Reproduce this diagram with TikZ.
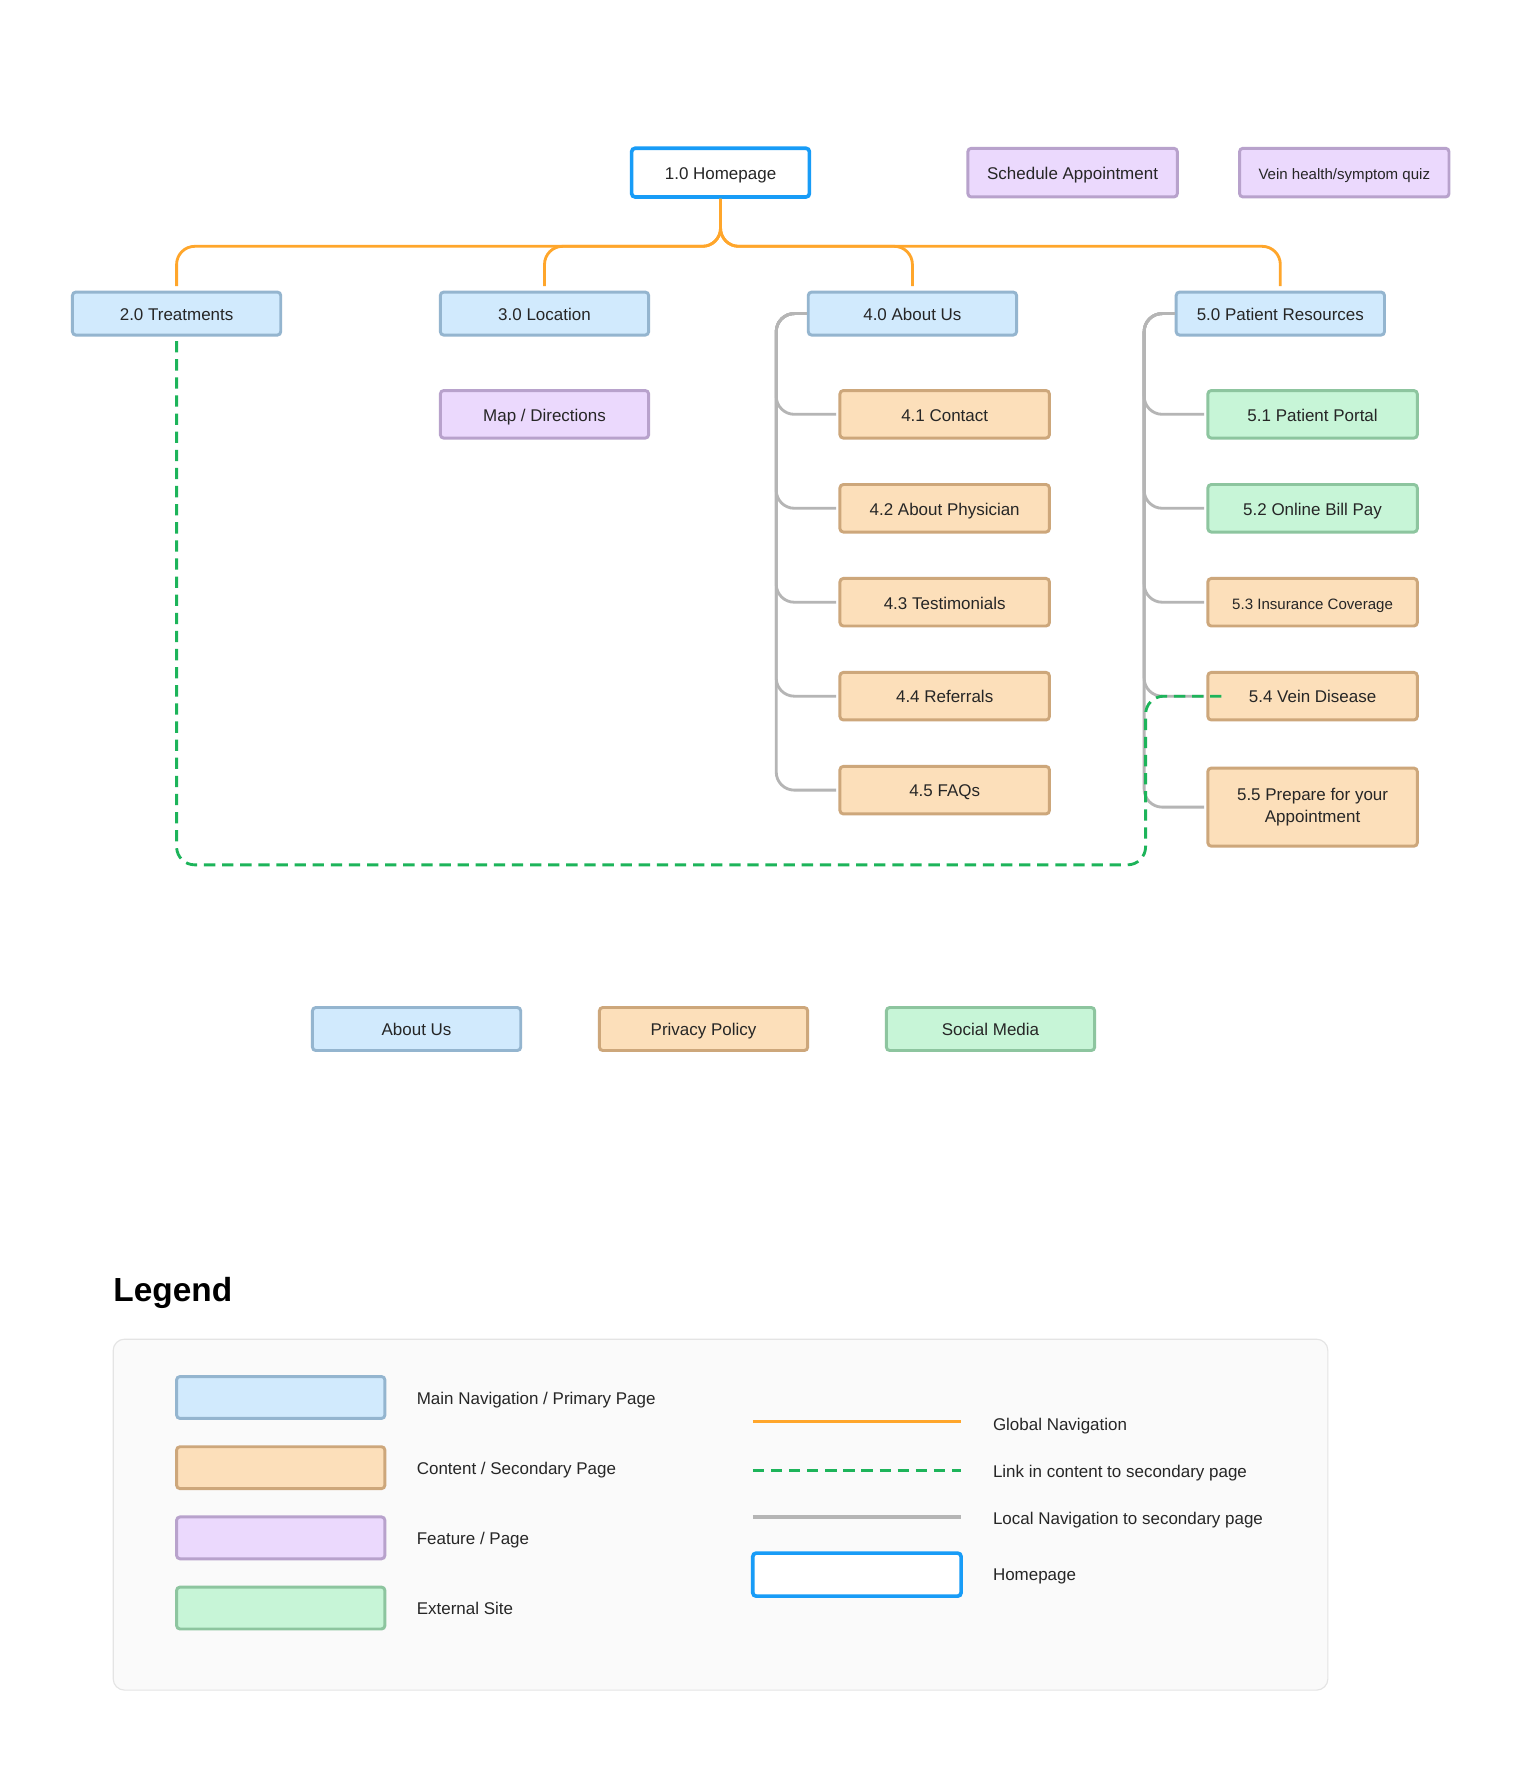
\documentclass[tikz,border=0pt]{standalone}
\usepackage{fontspec}
\setmainfont{Liberation Sans}
\definecolor{txt}{HTML}{262626}
\definecolor{bluefill}{HTML}{D1EAFD}
\definecolor{blueline}{HTML}{94B5CF}
\definecolor{orgfill}{HTML}{FCDFBA}
\definecolor{orgline}{HTML}{CDA77B}
\definecolor{purfill}{HTML}{EBD9FD}
\definecolor{purline}{HTML}{B8A2CC}
\definecolor{grnfill}{HTML}{C7F5D7}
\definecolor{grnline}{HTML}{8DC59F}
\definecolor{homeblue}{HTML}{189CF7}
\definecolor{globalc}{HTML}{FFA62B}
\definecolor{linkc}{HTML}{1DB45A}
\definecolor{localc}{HTML}{B5B5B5}
\definecolor{panelfill}{HTML}{FAFAFA}
\definecolor{panelline}{HTML}{E4E4E4}
\newcommand{\fsz}{\fontsize{15}{20}\selectfont}
\newcommand{\fsm}{\fontsize{13.3}{18}\selectfont}
\tikzset{
  boxbase/.style={draw, rounded corners=3pt, line width=2.6pt, minimum width=184pt,
    minimum height=38pt, inner sep=0pt, font=\fsz, text=txt, align=center},
  box/.style={boxbase, text height=12.5pt, text depth=0.5pt},
  primary/.style={box, fill=bluefill, draw=blueline},
  content/.style={box, fill=orgfill, draw=orgline},
  feature/.style={box, fill=purfill, draw=purline},
  external/.style={box, fill=grnfill, draw=grnline},
  contentmulti/.style={boxbase, fill=orgfill, draw=orgline},
  homebox/.style={box, fill=white, draw=homeblue, line width=3.2pt},
  tall/.style={minimum height=42pt},
  globalnav/.style={draw=globalc, line width=2.5pt, rounded corners=16pt},
  localnav/.style={draw=localc, line width=2.5pt, rounded corners=16pt},
  contentlink/.style={draw=linkc, line width=2.5pt, rounded corners=16pt, dash pattern=on 10pt off 6pt},
  legtext/.style={anchor=west, font=\fsz, text=txt, inner sep=0pt, text height=12pt, text depth=1pt}
}
\begin{document}
\begin{tikzpicture}[x=1pt,y=-1pt]
\useasboundingbox[fill=white] (0,0) rectangle (1355,1568);

% top row
\node[homebox, minimum width=157pt, minimum height=43pt] (home) at (636.5,152.5) {1.0 Homepage};
\node[feature, minimum width=185pt, minimum height=43pt] (sched) at (947.5,152.5) {Schedule Appointment};
\node[feature, minimum width=185pt, minimum height=43pt, font=\fsm] (quiz) at (1187.5,152.5) {Vein health/symptom quiz};

% main nav
\node[primary] (t20) at (156,277) {2.0 Treatments};
\node[primary] (l30) at (481,277) {3.0 Location};
\node[primary] (a40) at (806,277) {4.0 About Us};
\node[primary] (p50) at (1131,277) {5.0 Patient Resources};

\node[feature, tall] (map) at (481,366) {Map / Directions};

\node[content, tall, minimum width=185pt] (a41) at (834.5,366) {4.1 Contact};
\node[content, tall, minimum width=185pt] (a42) at (834.5,449) {4.2 About Physician};
\node[content, tall, minimum width=185pt] (a43) at (834.5,532) {4.3 Testimonials};
\node[content, tall, minimum width=185pt] (a44) at (834.5,615) {4.4 Referrals};
\node[content, tall, minimum width=185pt] (a45) at (834.5,698) {4.5 FAQs};

\node[external, tall, minimum width=185pt] (p51) at (1159.5,366) {5.1 Patient Portal};
\node[external, tall, minimum width=185pt] (p52) at (1159.5,449) {5.2 Online Bill Pay};
\node[content, tall, minimum width=185pt, font=\fsm] (p53) at (1159.5,532) {5.3 Insurance Coverage};
\node[content, tall, minimum width=185pt] (p54) at (1159.5,615) {5.4 Vein Disease};
\node[contentmulti, minimum width=185pt, minimum height=69pt] (p55) at (1159.5,713) {5.5 Prepare for your\\Appointment};

% footer
\node[primary] (fab) at (368,909) {About Us};
\node[content] (fpp) at (621.5,909) {Privacy Policy};
\node[external] (fsm) at (875,909) {Social Media};

% global navigation
\foreach \c in {t20,l30,a40,p50}
  \draw[globalnav] (home.south) -- ([yshift=-42pt]home.south) -| ([yshift=4pt]\c.north);

% local navigation
\foreach \c in {a41,a42,a43,a44,a45}
  \draw[localnav] (a40.west) -| ([xshift=-55pt]\c.west) -- ([xshift=-2pt]\c.west);
\foreach \c in {p51,p52,p53,p54,p55}
  \draw[localnav] (p50.west) -| ([xshift=-55pt]\c.west) -- ([xshift=-2pt]\c.west);

% content link
\coordinate (gc) at (1012,764);
\draw[contentlink] ([yshift=-4pt]t20.south) |- (gc) |- ([xshift=14pt]p54.west);

% legend
\node[anchor=base west, inner sep=0pt, font=\fontsize{29.5}{34}\selectfont\bfseries] (legtitle) at (100,1150) {Legend};
\draw[fill=panelfill, draw=panelline, line width=1pt, rounded corners=10pt] (100,1183) rectangle (1173,1493);

\node[primary, minimum height=37pt] (lg1) at (248,1234.5) {};
\node[content, minimum height=37pt] (lg2) at (248,1296.5) {};
\node[feature, minimum height=37pt] (lg3) at (248,1358.5) {};
\node[external, minimum height=37pt] (lg4) at (248,1420.5) {};
\node[legtext] (lt1) at (368,1235) {Main Navigation / Primary Page};
\node[legtext] (lt2) at (368,1297) {Content / Secondary Page};
\node[legtext] (lt3) at (368,1359) {Feature / Page};
\node[legtext] (lt4) at (368,1421) {External Site};

\coordinate (ga) at (665,1256); \coordinate (gb) at (849,1256);
\coordinate (la) at (665,1299); \coordinate (lb) at (849,1299);
\coordinate (na) at (665,1340); \coordinate (nb) at (849,1340);
\draw[globalnav] (ga) -- (gb);
\draw[contentlink] (la) -- (lb);
\draw[localnav, line width=2.8pt] (na) -- (nb);
\node[homebox] (lg5) at (757,1391) {};
\node[legtext] (lt5) at (877,1258) {Global Navigation};
\node[legtext] (lt6) at (877,1300) {Link in content to secondary page};
\node[legtext] (lt7) at (877,1341) {Local Navigation to secondary page};
\node[legtext] (lt8) at (877,1391) {Homepage};
\end{tikzpicture}
\end{document}
